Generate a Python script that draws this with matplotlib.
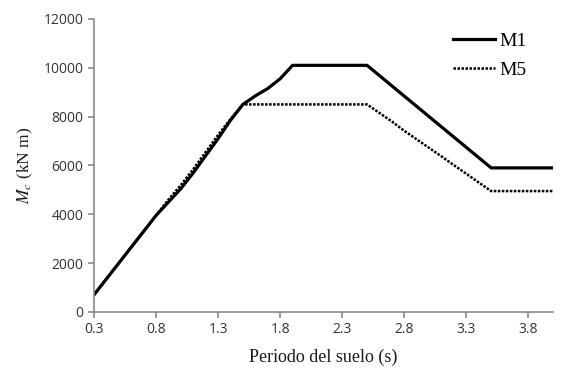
import matplotlib
matplotlib.use("Agg")
import matplotlib.pyplot as plt

plt.rcParams["mathtext.fontset"] = "stix"

# --- Données ---
periodo = [0.3, 0.4, 0.5, 0.6, 0.7, 0.8, 0.9, 1.0, 1.1, 1.2, 1.3, 1.4, 1.5,
           1.6, 1.7, 1.8, 1.9, 2.0, 2.1, 2.2, 2.3, 2.4, 2.5,
           2.6, 2.7, 2.8, 2.9, 3.0, 3.1, 3.2, 3.3, 3.4, 3.5,
           3.6, 3.7, 3.8, 3.9, 4.0]
m1 = [700, 1350, 2000, 2650, 3300, 3950, 4500, 5050, 5700, 6400, 7100, 7850, 8500,
      8850, 9150, 9550, 10100, 10100, 10100, 10100, 10100, 10100, 10100,
      9680, 9260, 8840, 8420, 8000, 7580, 7160, 6740, 6320, 5900,
      5900, 5900, 5900, 5900, 5900]
m5 = [700, 1350, 2000, 2650, 3300, 3950, 4600, 5200, 5850, 6550, 7250, 7900, 8500,
      8500, 8500, 8500, 8500, 8500, 8500, 8500, 8500, 8500, 8500,
      8150, 7800, 7420, 7070, 6720, 6370, 6010, 5660, 5300, 4950,
      4950, 4950, 4950, 4950, 4950]
xticks = [0.3, 0.8, 1.3, 1.8, 2.3, 2.8, 3.3, 3.8]
yticks = [0, 2000, 4000, 6000, 8000, 10000, 12000]

fig = plt.figure(figsize=(5.82, 3.87), dpi=100)
ax = fig.add_axes([0.1615, 0.194, 0.789, 0.757])

ax.plot(periodo, m1, color="black", lw=2.3, label="M1")
ax.plot(periodo, m5, color="black", lw=1.8, linestyle=(0, (1, 0.6)), label="M5")

ax.set_xlim(0.3, 4.0)
ax.set_ylim(0, 12000)
ax.set_xticks(xticks)
ax.set_xticklabels([f"{t:.1f}" for t in xticks])
ax.set_yticks(yticks)

for s in ["top", "right"]:
    ax.spines[s].set_visible(False)
for s in ["left", "bottom"]:
    ax.spines[s].set_color("#8a8a8a")
    ax.spines[s].set_linewidth(1.2)
ax.tick_params(colors="#8a8a8a", length=4, width=1.2, labelcolor="#333333",
               labelsize=10)
for lab in ax.get_xticklabels() + ax.get_yticklabels():
    lab.set_family("Open Sans")

ax.set_xlabel("Periodo del suelo (s)", family="Liberation Serif", fontsize=13,
              color="#1a1a1a", labelpad=8)
ax.set_ylabel(r"$M_c$ (kN m)", family="Liberation Serif", fontsize=12.5,
              color="#1a1a1a", labelpad=6)

leg = ax.legend(loc="upper right", bbox_to_anchor=(0.905, 0.917),
                bbox_transform=fig.transFigure, frameon=False, handlelength=2.2,
                handletextpad=0.2, prop={"family": "Liberation Serif", "size": 14},
                borderaxespad=0, borderpad=0, labelspacing=0.6)

fig.savefig("out.png", dpi=100)
